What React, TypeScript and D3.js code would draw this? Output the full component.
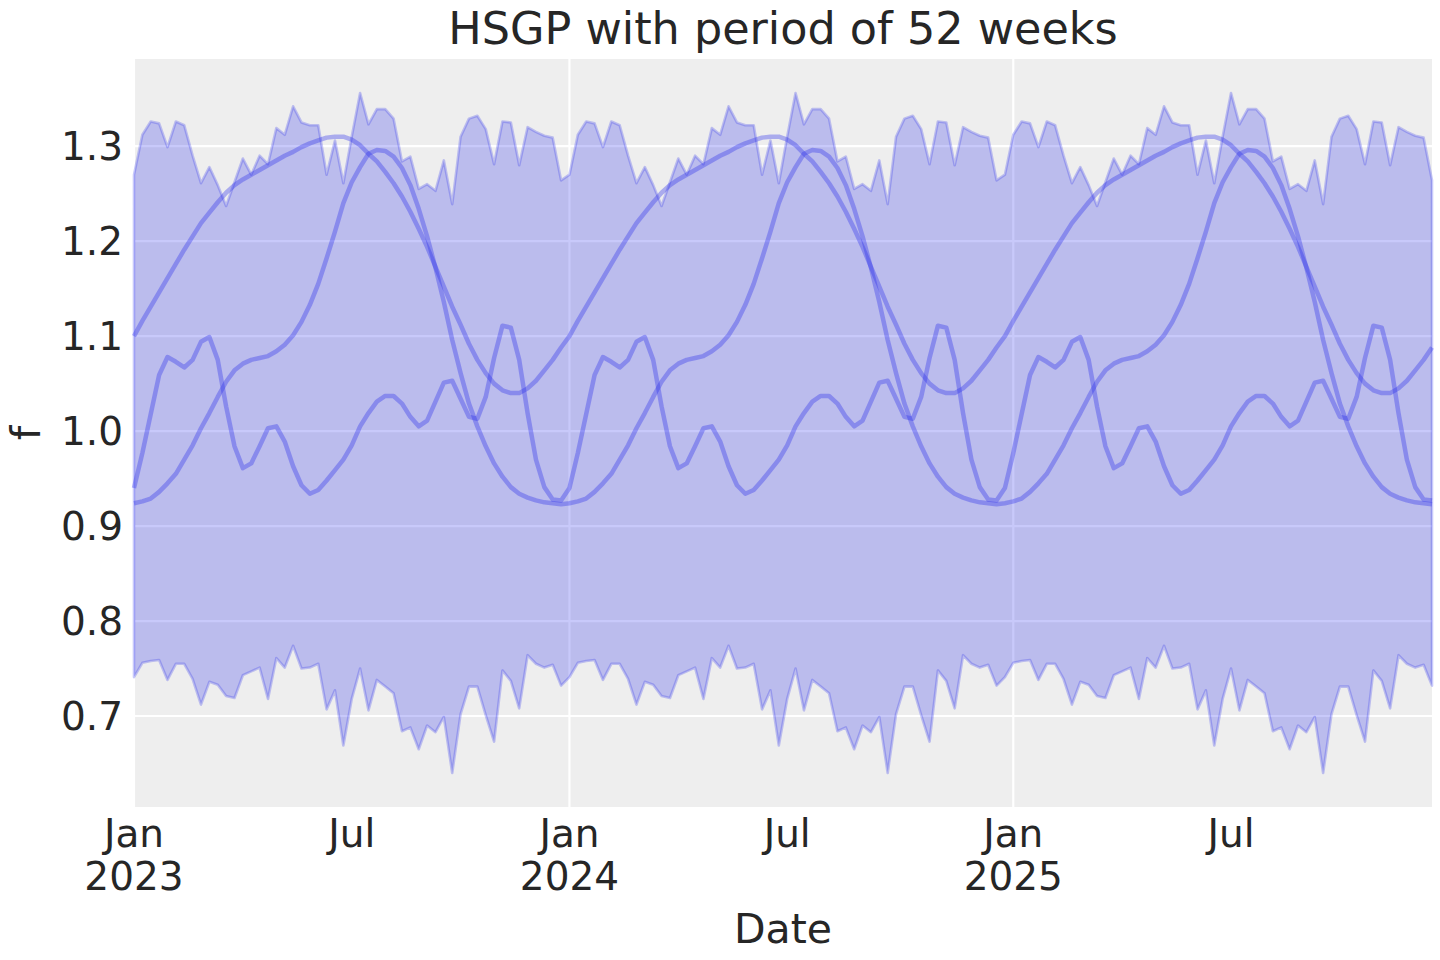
import React, { useEffect, useRef } from "react";
import * as d3 from "d3";

// one period (52 weeks); the periodic HSGP repeats it every year
const upperCycle = [
  1.270, 1.312, 1.326, 1.324, 1.299, 1.326, 1.322, 1.290, 1.261, 1.278,
  1.259, 1.237, 1.262, 1.287, 1.270, 1.290, 1.281, 1.319, 1.312, 1.342,
  1.325, 1.322, 1.322, 1.270, 1.306, 1.261, 1.310, 1.356, 1.323, 1.339,
  1.339, 1.329, 1.284, 1.289, 1.255, 1.260, 1.253, 1.285, 1.239, 1.310,
  1.329, 1.332, 1.318, 1.281, 1.326, 1.325, 1.280, 1.320, 1.315, 1.311,
  1.309, 1.264,
];

const lowerCycle = [
  0.741, 0.756, 0.758, 0.759, 0.738, 0.755, 0.755, 0.739, 0.712, 0.736,
  0.733, 0.721, 0.719, 0.743, 0.747, 0.751, 0.718, 0.761, 0.751, 0.774,
  0.750, 0.751, 0.755, 0.707, 0.727, 0.669, 0.718, 0.750, 0.706, 0.738,
  0.731, 0.724, 0.684, 0.688, 0.665, 0.690, 0.683, 0.699, 0.640, 0.702,
  0.731, 0.731, 0.701, 0.673, 0.748, 0.737, 0.708, 0.764, 0.755, 0.751,
  0.754, 0.732,
];

const sampleA = [
  1.100, 1.116, 1.131, 1.146, 1.161, 1.176, 1.191, 1.205, 1.219, 1.230,
  1.241, 1.251, 1.259, 1.265, 1.270, 1.275, 1.280, 1.285, 1.290, 1.294,
  1.299, 1.303, 1.306, 1.309, 1.310, 1.310, 1.307, 1.301, 1.292, 1.284,
  1.273, 1.261, 1.247, 1.231, 1.213, 1.194, 1.173, 1.152, 1.131, 1.112,
  1.092, 1.075, 1.061, 1.050, 1.043, 1.040, 1.040, 1.045, 1.053, 1.064,
  1.075, 1.088,
];

const sampleB = [
  0.924, 0.926, 0.929, 0.936, 0.945, 0.955, 0.970, 0.985, 1.003, 1.019,
  1.036, 1.052, 1.064, 1.071, 1.075, 1.077, 1.079, 1.084, 1.091, 1.101,
  1.115, 1.133, 1.155, 1.182, 1.210, 1.240, 1.262, 1.278, 1.292, 1.296,
  1.295, 1.289, 1.277, 1.259, 1.234, 1.205, 1.172, 1.136, 1.096, 1.061,
  1.029, 1.005, 0.984, 0.966, 0.952, 0.941, 0.934, 0.930, 0.927, 0.925,
  0.924, 0.923,
];

const sampleC = [
  0.940, 0.977, 1.018, 1.059, 1.078, 1.073, 1.067, 1.075, 1.094, 1.099,
  1.075, 1.026, 0.984, 0.961, 0.966, 0.984, 1.003, 1.005, 0.989, 0.963,
  0.943, 0.934, 0.938, 0.948, 0.959, 0.970, 0.985, 1.005, 1.019, 1.031,
  1.037, 1.037, 1.029, 1.015, 1.005, 1.011, 1.031, 1.051, 1.053, 1.034,
  1.015, 1.013, 1.036, 1.077, 1.111, 1.109, 1.075, 1.019, 0.970, 0.941,
  0.928, 0.927,
];

const nWeeks = 156; // weekly from 2023-01-02

const yTicks = [0.7, 0.8, 0.9, 1.0, 1.1, 1.2, 1.3];
const xTickWeeks = [0, 26, 52, 78, 105, 131];
const xTickLabels = [["Jan", "2023"], ["Jul"], ["Jan", "2024"], ["Jul"], ["Jan", "2025"], ["Jul"]];

const C0 = "#2a2eec";
const textColor = "#262626";
const font = "'DejaVu Sans', sans-serif";

const App: React.FC = () => {
  const svgRef = useRef<SVGSVGElement | null>(null);

  useEffect(() => {
    const svg = d3.select(svgRef.current);
    svg.selectAll("*").remove();

    const w = 1440;
    const h = 960;
    const m = { top: 59, right: 8, bottom: 153, left: 134 };

    const weeks = d3.range(nWeeks);
    const tile = (cycle: number[]) => weeks.map(i => cycle[i % cycle.length]);
    const upper = tile(upperCycle);
    const lower = tile(lowerCycle);
    const samples = [sampleA, sampleB, sampleC].map(tile);

    const lo = d3.min(lower)!;
    const hi = d3.max(upper)!;
    const pad = (hi - lo) * 0.05;

    const x = d3.scaleLinear().domain([0, nWeeks - 1]).range([m.left, w - m.right]);
    const y = d3.scaleLinear().domain([lo - pad, hi + pad]).range([h - m.bottom, m.top]);

    svg.attr("width", w).attr("height", h).style("background", "#ffffff");

    svg.append("rect")
      .attr("x", m.left)
      .attr("y", m.top)
      .attr("width", w - m.right - m.left)
      .attr("height", h - m.bottom - m.top)
      .attr("fill", "#eeeeee");

    // grid
    svg.append("g")
      .selectAll("line")
      .data(yTicks)
      .enter()
      .append("line")
      .attr("x1", m.left)
      .attr("x2", w - m.right)
      .attr("y1", d => y(d))
      .attr("y2", d => y(d))
      .attr("stroke", "#ffffff")
      .attr("stroke-width", 2.2);

    svg.append("g")
      .selectAll("line")
      .data(xTickWeeks.filter((_, i) => xTickLabels[i].length > 1))
      .enter()
      .append("line")
      .attr("x1", d => x(d))
      .attr("x2", d => x(d))
      .attr("y1", m.top)
      .attr("y2", h - m.bottom)
      .attr("stroke", "#ffffff")
      .attr("stroke-width", 2.2);

    // HDI band
    const area = d3.area<number>()
      .x(i => x(i))
      .y0(i => y(lower[i]))
      .y1(i => y(upper[i]));

    svg.append("path")
      .datum(weeks)
      .attr("d", area)
      .attr("fill", C0)
      .attr("fill-opacity", 0.26)
      .attr("stroke", C0)
      .attr("stroke-opacity", 0.26)
      .attr("stroke-width", 2.6)
      .attr("stroke-linejoin", "round");

    // sample curves
    const line = d3.line<number>()
      .x((_, i) => x(i))
      .y(d => y(d));

    samples.forEach(s => {
      svg.append("path")
        .datum(s)
        .attr("d", line)
        .attr("fill", "none")
        .attr("stroke", C0)
        .attr("stroke-opacity", 0.35)
        .attr("stroke-width", 4.5)
        .attr("stroke-linejoin", "round");
    });

    // y tick labels
    svg.append("g")
      .selectAll("text")
      .data(yTicks)
      .enter()
      .append("text")
      .attr("x", m.left - 11)
      .attr("y", d => y(d))
      .attr("dy", "0.36em")
      .attr("text-anchor", "end")
      .style("font-family", font)
      .style("font-size", "39px")
      .style("fill", textColor)
      .text(d => d.toFixed(1));

    // x tick labels
    const xt = svg.append("g")
      .selectAll("text")
      .data(xTickWeeks)
      .enter()
      .append("text")
      .attr("text-anchor", "middle")
      .style("font-family", font)
      .style("font-size", "39px")
      .style("fill", textColor);

    xt.each(function (d, i) {
      const t = d3.select(this);
      xTickLabels[i].forEach((s, k) => {
        t.append("tspan")
          .attr("x", x(d))
          .attr("y", 847 + k * 43)
          .text(s);
      });
    });

    // axis labels + title
    svg.append("text")
      .attr("x", (m.left + w - m.right) / 2)
      .attr("y", 943)
      .attr("text-anchor", "middle")
      .style("font-family", font)
      .style("font-size", "41px")
      .style("fill", textColor)
      .text("Date");

    svg.append("text")
      .attr("transform", `translate(40, ${(m.top + h - m.bottom) / 2}) rotate(-90)`)
      .attr("text-anchor", "middle")
      .style("font-family", font)
      .style("font-size", "41px")
      .style("fill", textColor)
      .text("f");

    svg.append("text")
      .attr("x", (m.left + w - m.right) / 2)
      .attr("y", 44)
      .attr("text-anchor", "middle")
      .style("font-family", font)
      .style("font-size", "44.5px")
      .style("fill", textColor)
      .text("HSGP with period of 52 weeks");
  }, []);

  return (
    <div style={{ position: "absolute", left: 0, top: 0, width: 1440, height: 960 }}>
      <svg ref={svgRef}></svg>
    </div>
  );
};

export default App;
